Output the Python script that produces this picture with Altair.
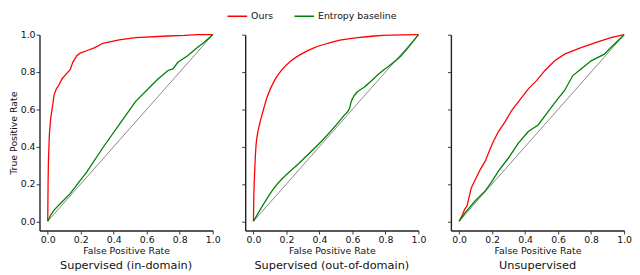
import altair as alt
import pandas as pd

# ---------------- data ----------------
series_names = ["Ours", "Entropy baseline"]
series_colors = ["#ff0000", "#008000"]
panel_titles = ["Supervised (in-domain)", "Supervised (out-of-domain)", "Unsupervised"]
tick_values = [0.0, 0.2, 0.4, 0.6, 0.8, 1.0]

# Panel 1: Supervised (in-domain)
p1_ours_fpr = [0.0, 0.002, 0.004, 0.01, 0.018, 0.03, 0.038, 0.053, 0.067, 0.087, 0.107, 0.136,
               0.152, 0.176, 0.196, 0.235, 0.285, 0.334, 0.433, 0.532, 0.729, 0.828, 0.907, 1.0]
p1_ours_tpr = [0.0, 0.20, 0.32, 0.465, 0.553, 0.623, 0.676, 0.711, 0.729, 0.764, 0.785, 0.813,
               0.852, 0.887, 0.901, 0.914, 0.931, 0.954, 0.972, 0.984, 0.993, 0.996, 1.0, 1.0]
p1_ent_fpr = [0.0, 0.018, 0.038, 0.077, 0.136, 0.196, 0.235, 0.334, 0.433, 0.532, 0.63, 0.67,
              0.729, 0.759, 0.789, 0.848, 0.907, 0.947, 1.0]
p1_ent_tpr = [0.0, 0.033, 0.06, 0.095, 0.148, 0.218, 0.262, 0.394, 0.518, 0.641, 0.729, 0.764,
              0.808, 0.817, 0.852, 0.887, 0.931, 0.958, 1.0]

# Panel 2: Supervised (out-of-domain)
p2_ours_fpr = [0.0, 0.002, 0.006, 0.01, 0.016, 0.025, 0.036, 0.057, 0.087, 0.127, 0.168, 0.228,
               0.289, 0.37, 0.45, 0.531, 0.632, 0.733, 0.834, 1.0]
p2_ours_tpr = [0.0, 0.12, 0.233, 0.32, 0.41, 0.47, 0.516, 0.587, 0.675, 0.754, 0.807, 0.86,
               0.896, 0.931, 0.954, 0.972, 0.984, 0.993, 0.998, 1.0]
p2_ent_fpr = [0.0, 0.127, 0.289, 0.43, 0.551, 0.582, 0.592, 0.612, 0.673, 0.774, 0.895, 1.0]
p2_ent_tpr = [0.0, 0.18, 0.322, 0.445, 0.569, 0.604, 0.64, 0.675, 0.72, 0.80, 0.887, 1.0]

# Panel 3: Unsupervised
p3_ours_fpr = [0.0, 0.018, 0.034, 0.048, 0.074, 0.098, 0.128, 0.158, 0.198, 0.238, 0.279, 0.319,
               0.359, 0.419, 0.469, 0.519, 0.579, 0.639, 0.739, 0.84, 0.92, 1.0]
p3_ours_tpr = [0.0, 0.03, 0.065, 0.083, 0.18, 0.224, 0.277, 0.322, 0.41, 0.481, 0.534, 0.595,
               0.64, 0.71, 0.754, 0.807, 0.86, 0.896, 0.931, 0.961, 0.984, 1.0]
p3_ent_fpr = [0.0, 0.038, 0.098, 0.158, 0.198, 0.238, 0.299, 0.359, 0.419, 0.479, 0.539, 0.599,
              0.639, 0.689, 0.739, 0.80, 0.88, 0.92, 1.0]
p3_ent_tpr = [0.0, 0.048, 0.11, 0.163, 0.212, 0.269, 0.339, 0.419, 0.481, 0.516, 0.587, 0.657,
              0.701, 0.781, 0.816, 0.86, 0.896, 0.931, 1.0]

diag_x = [0.0, 1.0]
diag_y = [0.0, 1.0]

panels = [
    (p1_ours_fpr, p1_ours_tpr, p1_ent_fpr, p1_ent_tpr),
    (p2_ours_fpr, p2_ours_tpr, p2_ent_fpr, p2_ent_tpr),
    (p3_ours_fpr, p3_ours_tpr, p3_ent_fpr, p3_ent_tpr),
]

FONT = "DejaVu Sans"
TXT = "#111111"
W, H = 176, 199


def make_panel(i):
    of, ot, ef, et = panels[i]
    rows = []
    for k, (x, y) in enumerate(zip(of, ot)):
        rows.append({"fpr": x, "tpr": y, "series": series_names[0], "idx": k})
    for k, (x, y) in enumerate(zip(ef, et)):
        rows.append({"fpr": x, "tpr": y, "series": series_names[1], "idx": k})
    df = pd.DataFrame(rows)
    ddf = pd.DataFrame({"fpr": diag_x, "tpr": diag_y})

    common = dict(values=tick_values, format=".1f", grid=False,
                  domainColor="#222222", domainWidth=1.4,
                  tickColor="#222222", tickSize=3.5, tickWidth=0.9,
                  labelFont=FONT, labelFontSize=9.5, labelColor=TXT, labelPadding=1,
                  titleFont=FONT, titleFontSize=9.5, titleFontWeight="normal",
                  titleColor=TXT, titlePadding=1.5, labelFlush=False)
    x_axis = alt.Axis(title="False Positive Rate", **common)
    if i == 0:
        y_axis = alt.Axis(title="True Positive Rate", **common)
    else:
        y_axis = alt.Axis(title=None, labels=False, **common)

    xs = alt.Scale(domain=[-0.05, 1.0], nice=False, zero=False)
    ys = alt.Scale(domain=[-0.05, 1.0], nice=False, zero=False)

    if i == 1:
        legend = alt.Legend(orient="none", direction="horizontal", legendX=-14, legendY=-25,
                            title=None, symbolType="M-2,0H2", symbolSize=100,
                            symbolStrokeWidth=1.5, labelFont=FONT, labelFontSize=9.5,
                            labelColor=TXT, labelOffset=8, columnPadding=18)
    else:
        legend = None

    diag = alt.Chart(ddf).mark_line(color="#555555", strokeWidth=0.7).encode(
        x=alt.X("fpr:Q", scale=xs, axis=x_axis),
        y=alt.Y("tpr:Q", scale=ys, axis=y_axis),
    )
    lines = alt.Chart(df).mark_line(strokeWidth=1.3,
                                    interpolate="monotone" if i == 1 else "linear").encode(
        x=alt.X("fpr:Q", scale=xs, axis=x_axis),
        y=alt.Y("tpr:Q", scale=ys, axis=y_axis),
        color=alt.Color("series:N", scale=alt.Scale(domain=series_names, range=series_colors),
                        sort=series_names, legend=legend),
        detail="series:N",
        order="idx:Q",
    )
    return alt.layer(diag, lines).properties(
        width=W, height=H,
        title=alt.TitleParams(panel_titles[i], orient="bottom", font=FONT, fontSize=11.5,
                              fontWeight="normal", color=TXT, offset=5),
    )


chart = alt.hconcat(make_panel(0), make_panel(1), make_panel(2), spacing=33,
                    bounds="flush").resolve_scale(color="independent").configure_view(
    stroke=None).properties(padding={"left": 0, "top": 0, "right": 0, "bottom": 0})

chart.save("out.html", embed_options={"renderer": "svg", "actions": False})
